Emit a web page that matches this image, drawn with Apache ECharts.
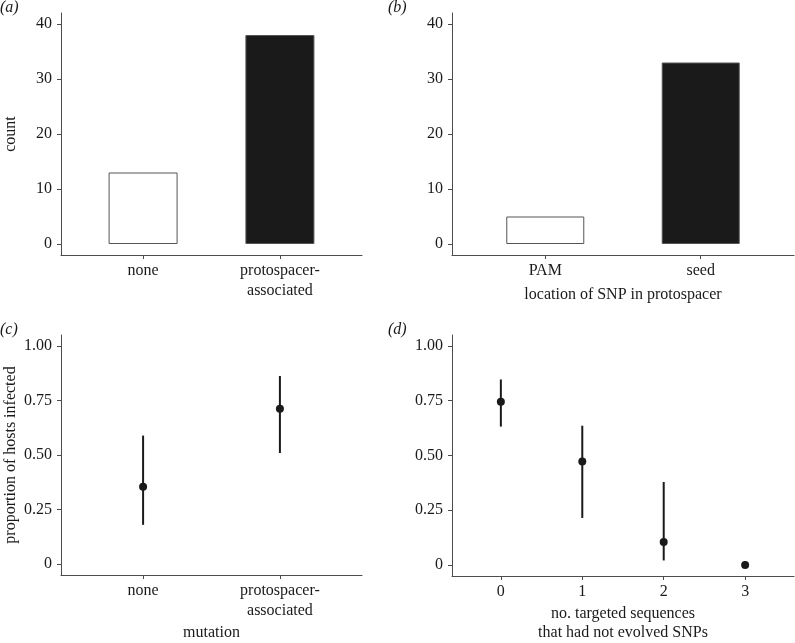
<!DOCTYPE html>
<html>
<head>
<meta charset="utf-8">
<script src="https://cdn.jsdelivr.net/npm/echarts@6/dist/echarts.min.js"></script>
<style>
html,body{margin:0;padding:0;background:#fff;}
#chart{width:795px;height:643px;}
</style>
</head>
<body>
<div id="chart"></div>
<script>
// ---- data ----
const catsA = ['none', 'protospacer-\nassociated'];
const posA = [1, 2];
const countsA = [13, 38];

const catsB = ['PAM', 'seed'];
const posB = [1, 2];
const countsB = [5, 33];

const catsC = ['none', 'protospacer-\nassociated'];
const posC = [1, 2];
const propC = [0.355, 0.712];
const lowC = [0.18, 0.509];
const highC = [0.589, 0.862];

const catsD = ['0', '1', '2', '3'];
const posD = [0, 1, 2, 3];
const propD = [0.745, 0.473, 0.105, 0];
const lowD = [0.632, 0.215, 0.021, 0];
const highD = [0.847, 0.636, 0.379, 0.018];

const countTicks = [0, 10, 20, 30, 40];
const propTicks = [0, 0.25, 0.5, 0.75, 1];

const barFill = ['#ffffff', '#1a1a1a'];

// ---- styling ----
const FONT = 'Liberation Serif, Times New Roman, serif';
const TXT = '#1a1a1a';
const AX = '#4d4d4d';

function xAxisCfg(gridIndex, min, max, pos, cats, name, nameGap) {
  return {
    type: 'value', gridIndex, min, max,
    splitLine: {show: false},
    axisLine: {show: true, onZero: false, lineStyle: {color: AX, width: 1}},
    axisTick: {show: true, length: 4, customValues: pos, lineStyle: {color: AX}},
    axisLabel: {
      customValues: pos, margin: 6, color: TXT, fontFamily: FONT, fontSize: 16, lineHeight: 20,
      formatter: v => cats[pos.indexOf(v)]
    },
    name: name, nameLocation: 'middle', nameGap: nameGap,
    nameTextStyle: {color: TXT, fontFamily: FONT, fontSize: 16, lineHeight: 19}
  };
}
function yAxisCfg(gridIndex, min, max, ticks, fmt, name) {
  return {
    type: 'value', gridIndex, min, max,
    splitLine: {show: false},
    axisLine: {show: true, onZero: false, lineStyle: {color: AX, width: 1}},
    axisTick: {show: true, length: 4, customValues: ticks, lineStyle: {color: AX}},
    axisLabel: {customValues: ticks, margin: 9, color: TXT, fontFamily: FONT, fontSize: 16, formatter: fmt},
    name: name, nameLocation: 'middle', nameGap: 42,
    nameTextStyle: {color: TXT, fontFamily: FONT, fontSize: 16}
  };
}
const propFmt = v => (v === 0 ? '0' : v.toFixed(2));

function barSeries(idx, pos, counts, width) {
  return {
    type: 'bar', xAxisIndex: idx, yAxisIndex: idx, barWidth: width,
    data: pos.map((p, i) => ({value: [p, counts[i]], itemStyle: {color: barFill[i], borderColor: '#555', borderWidth: 1}})),
    silent: true
  };
}
function errSeries(idx, pos, low, high) {
  return {
    type: 'custom', xAxisIndex: idx, yAxisIndex: idx, silent: true, z: 2,
    encode: {x: 0, y: [1, 2]},
    data: pos.map((p, i) => [p, low[i], high[i]]),
    renderItem: (params, api) => {
      const x = api.value(0);
      const a = api.coord([x, api.value(1)]);
      const b = api.coord([x, api.value(2)]);
      return {type: 'line', shape: {x1: a[0], y1: a[1], x2: b[0], y2: b[1]}, style: {stroke: '#1a1a1a', lineWidth: 2}};
    }
  };
}
function ptSeries(idx, pos, vals) {
  return {
    type: 'scatter', xAxisIndex: idx, yAxisIndex: idx, silent: true, z: 3,
    symbolSize: 8, itemStyle: {color: '#1a1a1a', opacity: 1},
    data: pos.map((p, i) => [p, vals[i]])
  };
}

const chart = echarts.init(document.getElementById('chart'), null, {renderer: 'canvas'});
const titleStyle = {color: TXT, fontFamily: FONT, fontSize: 16, fontStyle: 'italic', fontWeight: 'normal'};
chart.setOption({
  animation: false,
  backgroundColor: '#fff',
  title: [
    {text: '(a)', left: -5, top: -5, textStyle: titleStyle},
    {text: '(b)', left: 383, top: -5, textStyle: titleStyle},
    {text: '(c)', left: -5, top: 317, textStyle: titleStyle},
    {text: '(d)', left: 383, top: 317, textStyle: titleStyle}
  ],
  grid: [
    {left: 61, top: 13, width: 301, height: 242},
    {left: 452, top: 13, width: 342, height: 242},
    {left: 61, top: 335, width: 301, height: 242},
    {left: 452, top: 335, width: 342, height: 242}
  ],
  xAxis: [
    xAxisCfg(0, 0.4, 2.6, posA, catsA, '', 30),
    xAxisCfg(1, 0.4, 2.6, posB, catsB, 'location of SNP in protospacer', 30),
    xAxisCfg(2, 0.4, 2.6, posC, catsC, 'mutation', 48),
    xAxisCfg(3, -0.6, 3.6, posD, catsD, 'no. targeted sequences\nthat had not evolved SNPs', 28)
  ],
  yAxis: [
    yAxisCfg(0, -2, 42, countTicks, v => String(v), 'count'),
    yAxisCfg(1, -2, 42, countTicks, v => String(v), ''),
    yAxisCfg(2, -0.05, 1.05, propTicks, propFmt, 'proportion of hosts infected'),
    yAxisCfg(3, -0.05, 1.05, propTicks, propFmt, '')
  ],
  series: [
    barSeries(0, posA, countsA, 69),
    barSeries(1, posB, countsB, 78),
    errSeries(2, posC, lowC, highC),
    ptSeries(2, posC, propC),
    errSeries(3, posD, lowD, highD),
    ptSeries(3, posD, propD)
  ]
});
</script>
</body>
</html>
